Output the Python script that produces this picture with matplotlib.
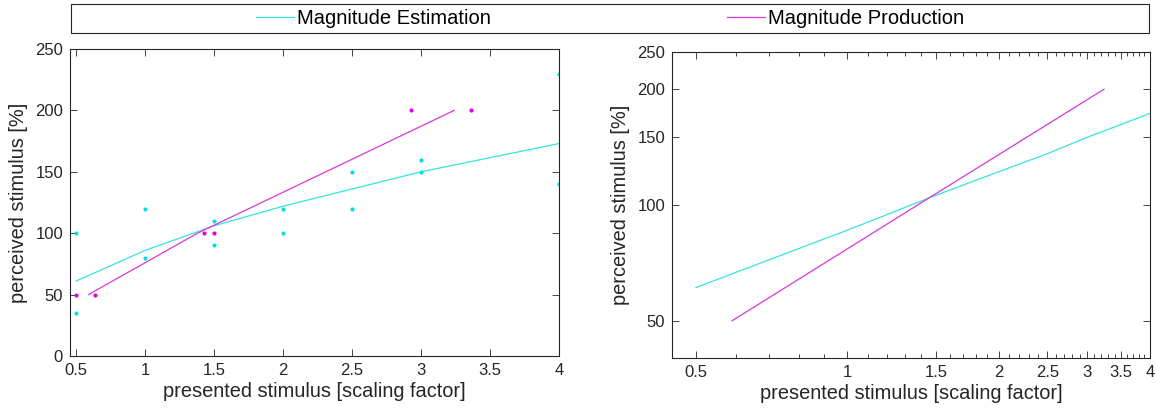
import matplotlib
matplotlib.use('Agg')
import matplotlib.pyplot as plt
from matplotlib.patches import Rectangle
from matplotlib.ticker import FixedLocator, MultipleLocator, NullLocator, FixedFormatter

plt.rcParams['font.family'] = ['Liberation Sans', 'DejaVu Sans']

# scatter data: magnitude estimation (cyan)
est_x = [0.5, 0.5, 1, 1, 1.5, 1.5, 2, 2, 2.5, 2.5, 3, 3, 4, 4]
est_y = [100, 35, 120, 80, 110, 90, 120, 100, 150, 120, 160, 150, 230, 140]
# scatter data: magnitude production (magenta)
prod_x = [0.5, 0.64, 1.43, 1.5, 2.93, 3.36]
prod_y = [50, 50, 100, 100, 200, 200]
# fitted power-law lines
est_fit_x = [0.5, 1, 1.5, 2, 2.5, 3, 4]
est_fit_y = [61, 86, 106, 122, 136, 150, 173]
prod_fit_x = [0.59, 1.38, 3.24]
prod_fit_y = [50, 100, 200]

x_ticks = [0.5, 1, 1.5, 2, 2.5, 3, 3.5, 4]
x_ticklabels = ['0.5', '1', '1.5', '2', '2.5', '3', '3.5', '4']
y_ticks = [0, 50, 100, 150, 200, 250]
y_ticks_log = [50, 100, 150, 200, 250]

c_est = '#38e2e2'
c_prod = '#d838d8'
ax_col = '#262626'

fig = plt.figure(figsize=(11.56, 4.08), dpi=100)
ax1 = fig.add_axes([70/1156, 52/408, 489/1156, 307/408])
ax2 = fig.add_axes([672/1156, 50/408, 478/1156, 306/408])

# left: linear axes
ax1.plot(est_fit_x, est_fit_y, color=c_est, lw=0.9)
ax1.plot(prod_fit_x, prod_fit_y, color=c_prod, lw=0.9)
ax1.plot(est_x, est_y, 'o', color='#00e0e0', ms=3, mec='none')
ax1.plot(prod_x, prod_y, 'o', color='#e000e0', ms=3, mec='none')
ax1.set_xlim(0.456, 4)
ax1.set_ylim(0, 250)
ax1.set_xticks(x_ticks)
ax1.set_xticklabels(x_ticklabels)
ax1.set_yticks(y_ticks)

# right: log-log axes
ax2.plot(est_fit_x, est_fit_y, color=c_est, lw=0.9)
ax2.plot(prod_fit_x, prod_fit_y, color=c_prod, lw=0.9)
ax2.set_xscale('log')
ax2.set_yscale('log')
ax2.set_xlim(0.448, 4)
ax2.set_ylim(40, 250)
ax2.xaxis.set_major_locator(FixedLocator(x_ticks))
ax2.xaxis.set_major_formatter(FixedFormatter(x_ticklabels))
ax2.xaxis.set_minor_locator(MultipleLocator(0.1))
ax2.xaxis.set_minor_formatter(FixedFormatter([]))
ax2.yaxis.set_major_locator(FixedLocator(y_ticks_log))
ax2.yaxis.set_major_formatter(FixedFormatter([str(v) for v in y_ticks_log]))
ax2.yaxis.set_minor_locator(NullLocator())

for ax in (ax1, ax2):
    ax.set_xlabel('presented stimulus [scaling factor]', fontsize=14.4, color=ax_col, labelpad=3)
    ax.set_ylabel('perceived stimulus [%]', fontsize=14.4, color=ax_col, labelpad=5)
    ax.tick_params(which='both', direction='in', top=True, right=True,
                   labelsize=12, colors=ax_col, pad=5)
    ax.tick_params(which='major', length=5, width=0.6)
    ax.tick_params(which='minor', length=3, width=0.6)
    for s in ax.spines.values():
        s.set_color(ax_col)
        s.set_linewidth(0.8)

# legend across the top
fig.patches.append(Rectangle((71/1156, (408-33)/408), 1078/1156, 29/408,
                             transform=fig.transFigure, fill=False,
                             edgecolor=ax_col, lw=0.8))
h1, = ax1.plot([], [], color=c_est, lw=0.9, label='Magnitude Estimation')
h2, = ax1.plot([], [], color=c_prod, lw=0.9, label='Magnitude Production')
fig.legend(handles=[h1, h2], loc='center', bbox_to_anchor=(610/1156, (408-18.5)/408),
           ncol=2, frameon=False, fontsize=14.5, handlelength=1.9,
           handletextpad=0.15, columnspacing=11.7, borderpad=0)

fig.savefig('out.png', dpi=100)
